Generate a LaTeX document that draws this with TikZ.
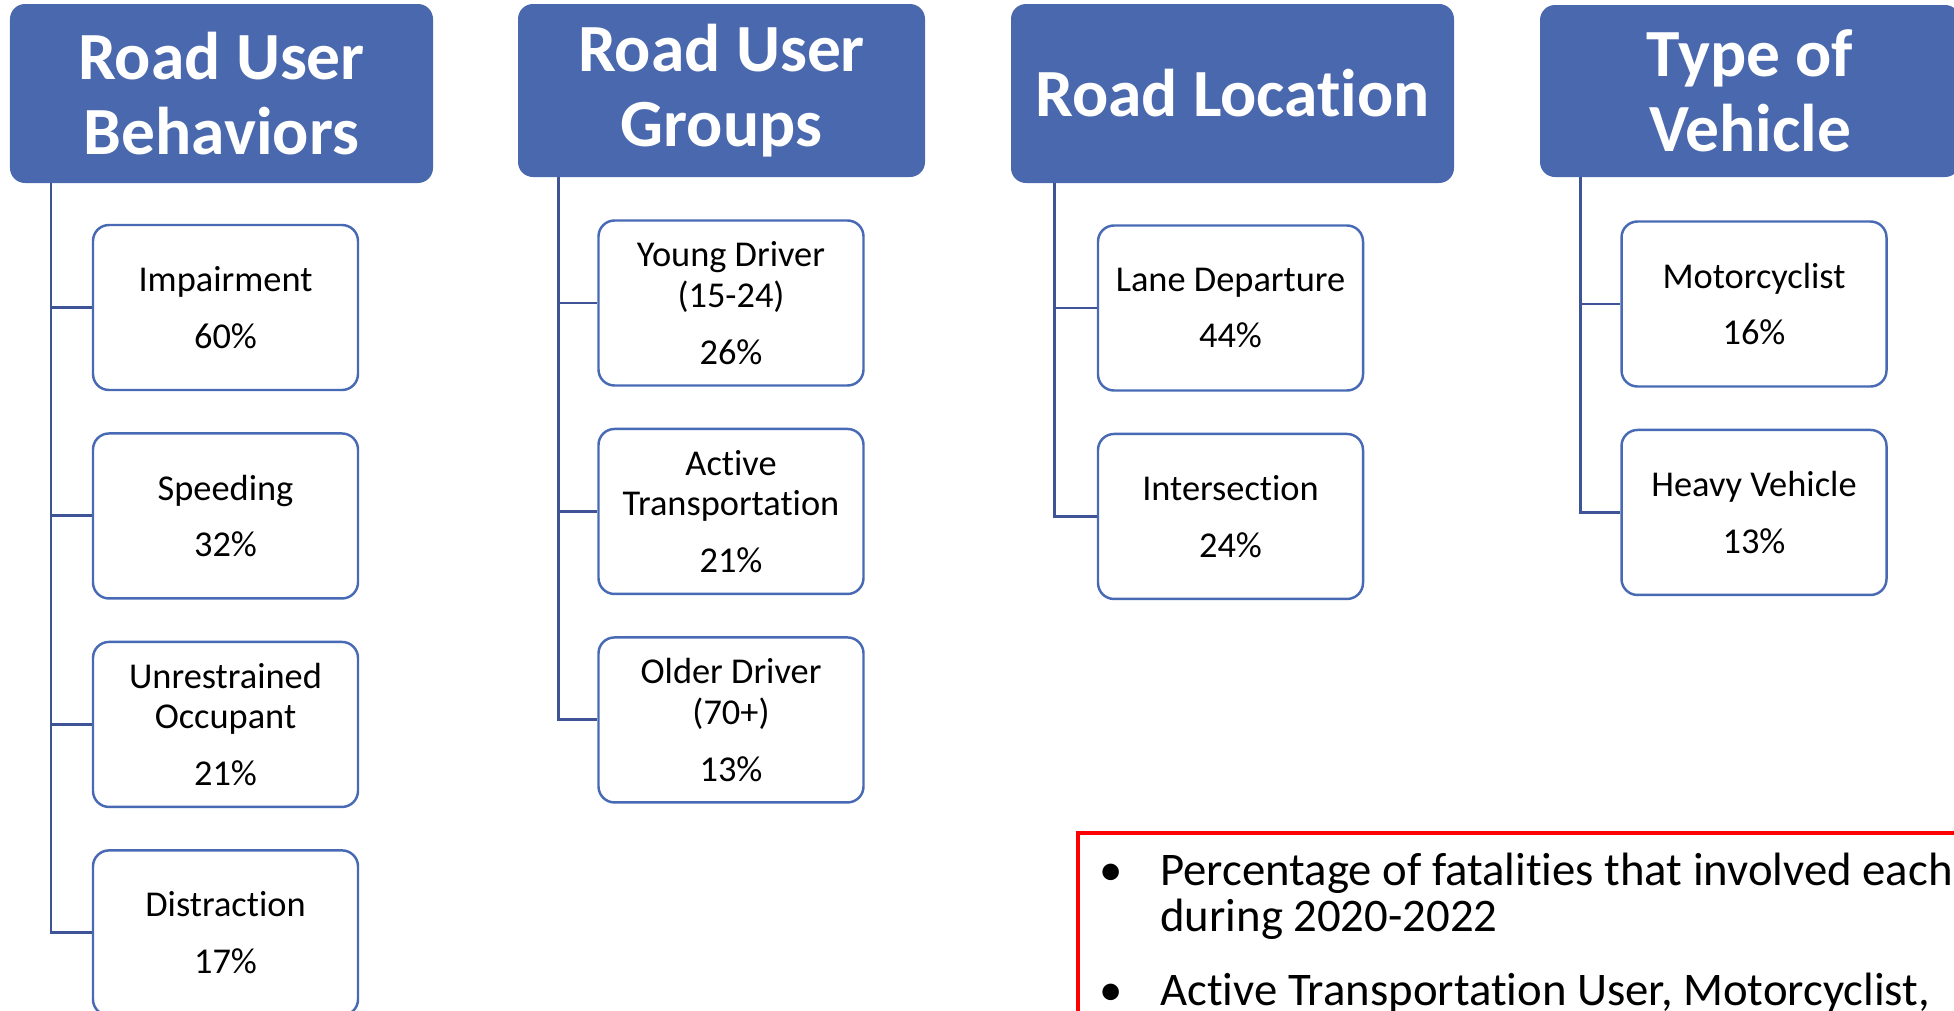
\documentclass[tikz,border=0pt]{standalone}
\usepackage{fontspec}
\setmainfont{Carlito}[RawFeature={-liga;-clig;-calt;-dlig}]
\usetikzlibrary{positioning}

\definecolor{headblue}{RGB}{74,104,174}
\definecolor{boxblue}{RGB}{72,106,180}
\definecolor{linkblue}{RGB}{62,84,150}

\tikzset{
  header/.style={fill=headblue, rounded corners=3mm, text=white, align=center, inner sep=0pt,
    font=\bfseries\fontsize{38.4pt}{42.5pt}\selectfont},
  item/.style={draw=boxblue, line width=1.4pt, fill=white, rounded corners=3.2mm, align=center,
    minimum width=5.3cm, minimum height=3.3cm, inner sep=0pt,
    font=\fontsize{20.7pt}{23.2pt}\selectfont},
  link/.style={draw=linkblue, line width=1.7pt}
}

\begin{document}
\begin{tikzpicture}[x=0.2mm, y=-0.2mm, node distance=0.82cm]
\useasboundingbox (0,0) rectangle (1954,1010);

% headings
\node[header, minimum width=8.46cm, minimum height=3.58cm] (beh) at (221.5,93.5) {Road User\\Behaviors};
\node[header, minimum width=8.14cm, minimum height=3.46cm] (grp) at (721.5,90.5) {Road User\\Groups};
\node[header, minimum width=8.86cm, minimum height=3.58cm] (loc) at (1232.5,93.5) {Road Location};
\node[header, minimum width=8.4cm, minimum height=3.44cm] (veh) at (1750,91) {Type of\\Vehicle};

% road user behaviors
\node[item] (imp) at (225.5,307.5) {Impairment\\[3.2mm]60\%};
\node[item, below=of imp] (spd) {Speeding\\[3.2mm]32\%};
\node[item, below=of spd] (unr) {Unrestrained\\Occupant\\[3.2mm]21\%};
\node[item, below=of unr] (dis) {Distraction\\[3.2mm]17\%};

% road user groups
\node[item] (yng) at (731,303) {Young Driver\\(15-24)\\[3.2mm]26\%};
\node[item, below=of yng] (act) {Active\\Transportation\\[3.2mm]21\%};
\node[item, below=of act] (old) {Older Driver\\(70+)\\[3.2mm]13\%};

% road location
\node[item] (lane) at (1230.5,308) {Lane Departure\\[3.2mm]44\%};
\node[item, below=of lane] (isec) {Intersection\\[3.2mm]24\%};

% type of vehicle
\node[item] (moto) at (1754,304) {Motorcyclist\\[3.2mm]16\%};
\node[item, below=of moto] (hvy) {Heavy Vehicle\\[3.2mm]13\%};

% tree lines
\coordinate (behroot) at (51,183);
\coordinate (grproot) at (558,177);
\coordinate (locroot) at (1054,183);
\coordinate (vehroot) at (1580,177);
\draw[link] (behroot) |- (dis.west);
\foreach \n in {imp,spd,unr} \draw[link] (behroot |- \n.west) -- (\n.west);
\draw[link] (grproot) |- (old.west);
\foreach \n in {yng,act} \draw[link] (grproot |- \n.west) -- (\n.west);
\draw[link] (locroot) |- (isec.west);
\draw[link] (locroot |- lane.west) -- (lane.west);
\draw[link] (vehroot) |- (hvy.west);
\draw[link] (vehroot |- moto.west) -- (moto.west);

% note
\draw[red, line width=0.7mm] (1078,833) rectangle (1990,1040);
\node[anchor=base west, inner sep=0pt, font=\fontsize{26.6pt}{26.6pt}\selectfont] (note) at (1099,885)
  {\begin{tabular}[t]{@{}p{12.2mm}@{}l@{}}
   \textbullet & Percentage of fatalities that involved each\\
    & during 2020-2022\\[5.4mm]
   \textbullet & Active Transportation User, Motorcyclist,
   \end{tabular}};
\end{tikzpicture}
\end{document}
